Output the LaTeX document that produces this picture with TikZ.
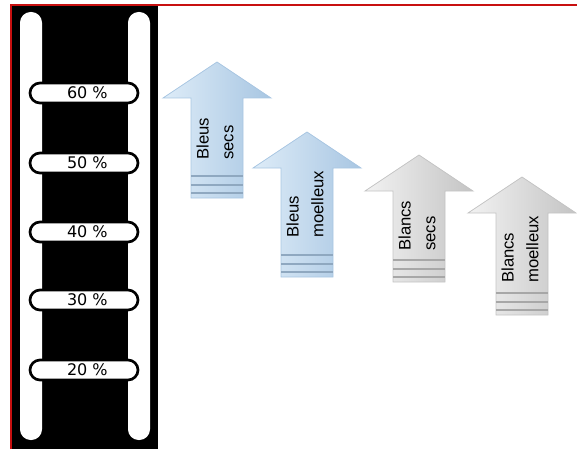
\documentclass[tikz,border=0pt]{standalone}
\usepackage{fontspec}
\setmainfont{Liberation Sans}
\newfontfamily\rungfont{DejaVu Sans}
\usetikzlibrary{calc}

\definecolor{bordred}{RGB}{200,16,16}
\definecolor{bluelight}{RGB}{222,236,248}
\definecolor{bluedark}{RGB}{168,198,226}
\definecolor{greylight}{RGB}{242,242,242}
\definecolor{greydark}{RGB}{196,196,196}

\tikzset{
  rung/.style={draw=black, line width=2, fill=white, rounded corners=7.5,
    minimum width=81, minimum height=15, inner sep=0,
    font=\rungfont\fontsize{12}{12}\selectfont},
  pillar/.style={fill=white, rounded corners=8},
  arrowbody/.style={left color=#1light, right color=#1dark, draw=#1dark, line width=0.6},
  stripe/.style={draw=#1dark!85!black, line width=0.8},
  arrowtext/.style={rotate=90, inner sep=0, align=left,
    font=\fontsize{12.5}{18.5}\selectfont}
}

% one wine arrow: name, centre x, tip y, bottom y, text start y, colour, text
\newcommand{\vinarrow}[7]{%
  \path[arrowbody=#6] (#2,#3) -- (#2+54,#3+36) -- (#2+26,#3+36) -- (#2+26,#4)
    -- (#2-26,#4) -- (#2-26,#3+36) -- (#2-54,#3+36) -- cycle;
  \foreach \d in {5,13,22}
    \draw[stripe=#6] (#2-26,#4-\d) -- (#2+26,#4-\d);
  \node[arrowtext, anchor=west] (#1) at (#2-2,#5) {#7};
}

\begin{document}
\begin{tikzpicture}[x=0.75pt, y=-0.75pt]
  \useasboundingbox (0,0) rectangle (577,449);

  % scale
  \fill[black] (12,6) rectangle (158,449);
  \fill[pillar] (20,12) rectangle (42,440);
  \fill[pillar] (128,12) rectangle (150,440);
  \foreach \p/\yy in {60/93, 50/163, 40/232, 30/300, 20/370}
    \node[rung] (r\p) at (84,\yy) {\hspace{5pt}\p{} \%};

  \draw[bordred, line width=1.6] (11,449) -- (11,5) -- (577,5);

  % arrows
  \vinarrow{bsecs}{217}{62}{198}{160}{blue}{Bleus\\secs}
  \vinarrow{bmoel}{307}{132}{277}{238}{blue}{Bleus\\moelleux}
  \vinarrow{wsecs}{419}{155}{282}{251}{grey}{Blancs\\secs}
  \vinarrow{wmoel}{522}{177}{315}{283}{grey}{Blancs\\moelleux}
\end{tikzpicture}
\end{document}
